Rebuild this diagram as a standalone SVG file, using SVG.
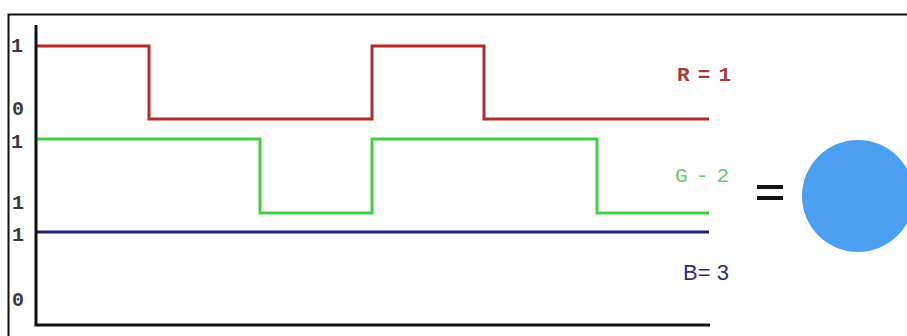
<svg xmlns="http://www.w3.org/2000/svg" width="907" height="336" viewBox="0 0 907 336">
<style>
.ax{font-family:"Liberation Mono","DejaVu Sans Mono",monospace;font-size:20px;font-weight:bold;fill:#3a3a3a}
.sig{fill:none;stroke-width:3;stroke-linejoin:miter}
.mono{font-family:"Liberation Mono","DejaVu Sans Mono",monospace;font-size:21px;letter-spacing:-2.2px}
</style>
<rect width="907" height="336" fill="#ffffff"/>
<path d="M8.5,336 V14.5 H907" fill="none" stroke="#111" stroke-width="2"/>
<g id="connectors">
<path id="red" class="sig" stroke="#b52a2a" d="M37,46 H149 V119 H372 V46 H484 V119 H709"/>
<path id="green" class="sig" stroke="#44cc44" d="M37,139 H260 V213 H372 V139 H597 V213 H709"/>
<path id="blue" class="sig" stroke="#22226e" d="M37,232 H709"/>
</g>
<g id="axes">
<path d="M36,25 V325 H710" fill="none" stroke="#111" stroke-width="3"/>
</g>
<g id="axis-labels">
<text class="ax" x="11" y="52">1</text>
<text class="ax" x="12" y="115">0</text>
<text class="ax" x="11" y="148">1</text>
<text class="ax" x="12" y="209">1</text>
<text class="ax" x="12" y="241">1</text>
<text class="ax" x="12" y="306">0</text>
</g>
<g id="label-r"><text class="mono" x="677" y="81" fill="#a83a3a" font-weight="bold">R = 1</text></g>
<g id="label-g"><text class="mono" x="675" y="182" fill="#6cc86c">G - 2</text></g>
<g id="label-b"><text x="683" y="280" font-family="Liberation Sans, Arial, sans-serif" font-size="22" fill="#2e2e6e">B= 3</text></g>
<g id="equals">
<rect x="757" y="185" width="26" height="4" fill="#111"/>
<rect x="757" y="196" width="26" height="4" fill="#111"/>
</g>
<g id="color-result"><circle cx="858" cy="196" r="56" fill="#4a9ff0"/></g>
</svg>
